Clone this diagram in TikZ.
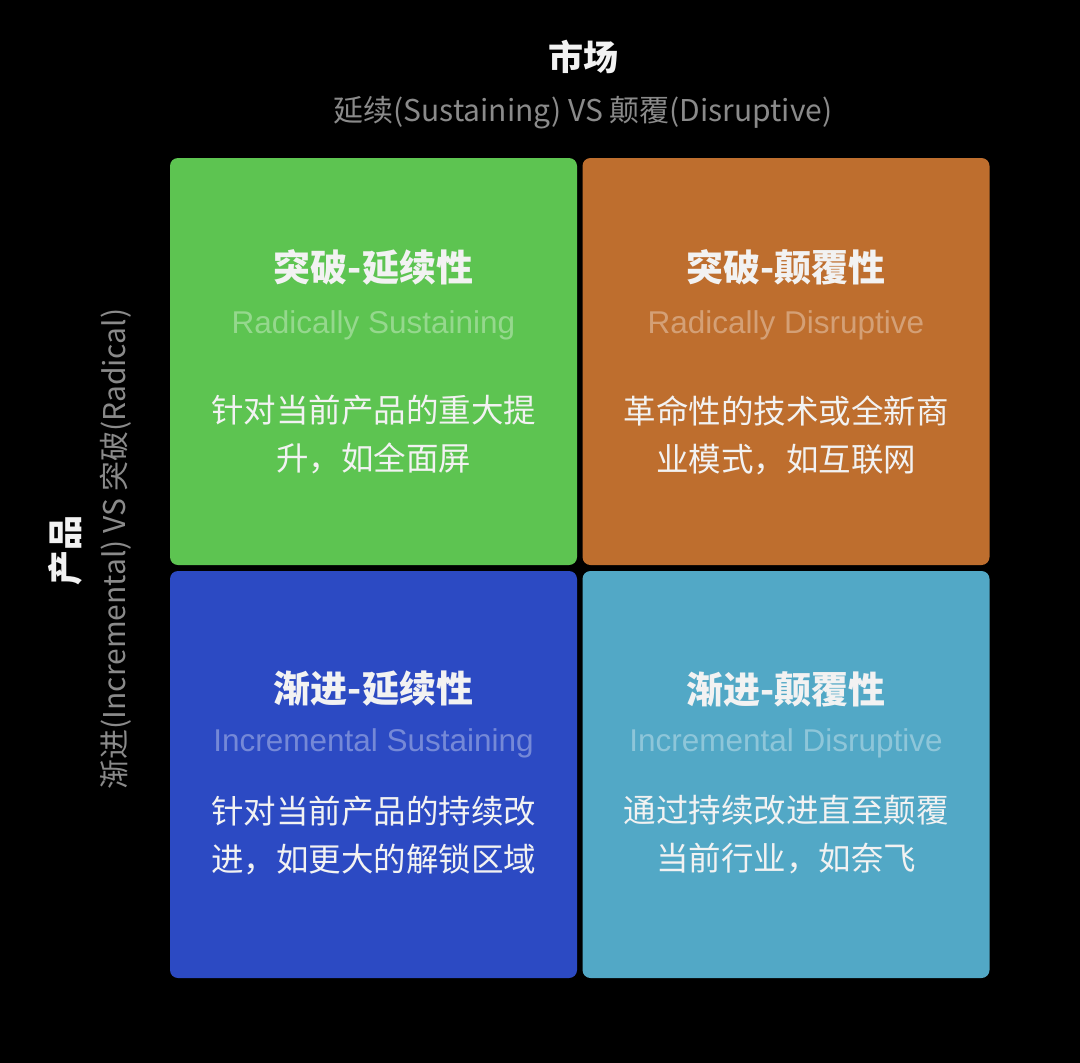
\documentclass[tikz,border=0pt]{standalone}
\usepackage{fontspec}
\setmainfont{Noto Sans CJK SC}
\newfontfamily\engfont{Liberation Sans}
\definecolor{bgblack}{HTML}{000000}
\definecolor{qgreen}{HTML}{5DC451}
\definecolor{qorange}{HTML}{BE6E2E}
\definecolor{qblue}{HTML}{2C4AC3}
\definecolor{qcyan}{HTML}{52A8C6}
\definecolor{hdgrey}{HTML}{8A8A8A}
\definecolor{txtwhite}{HTML}{F2F2F2}
\tikzset{
  quad/.style={rounded corners=8pt, minimum width=407pt, minimum height=407pt, inner sep=0pt, draw=none},
  qtitle/.style={text=txtwhite, font=\fontsize{37}{42}\selectfont\bfseries, inner sep=0pt},
  qeng/.style={text=white, text opacity=0.35, font=\engfont\fontsize{31.5}{36}\selectfont, inner sep=0pt},
  qdesc/.style={text=txtwhite, font=\fontsize{32.5}{48}\selectfont, align=center, inner sep=0pt},
  hdmain/.style={text=txtwhite, font=\fontsize{35}{40}\selectfont\bfseries, inner sep=0pt},
  hdsub/.style={text=hdgrey, font=\fontsize{30}{34}\selectfont, inner sep=0pt},
}
\begin{document}
\begin{tikzpicture}[x=1pt,y=-1pt]
\fill[bgblack] (0,0) rectangle (1080,1063);
\useasboundingbox (0,0) rectangle (1080,1063);

\node[hdmain] (mkt) at (583,57) {市场};
\node[hdsub] (mktsub) at (583,113) {延续(Sustaining) VS 颠覆(Disruptive)};

\node[hdmain, rotate=90] (prd) at (65,550) {产品};
\node[hdsub, rotate=90] (prdsub) at (116,549) {渐进(Incremental) VS 突破(Radical)};

\node[quad, fill=qgreen] (q1) at (373.5,361.5) {};
\node[quad, fill=qorange] (q2) at (786,361.5) {};
\node[quad, fill=qblue] (q3) at (373.5,774.5) {};
\node[quad, fill=qcyan] (q4) at (786,774.5) {};

\node[qtitle] (t1) at (373.5,267) {突破-延续性};
\node[qeng] (e1) at (373.5,325) {Radically Sustaining};
\node[qdesc] (d1) at (373.5,435) {针对当前产品的重大提\\升，如全面屏};

\node[qtitle] (t2) at (786,267) {突破-颠覆性};
\node[qeng] (e2) at (786,325) {Radically Disruptive};
\node[qdesc] (d2) at (786,435) {革命性的技术或全新商\\业模式，如互联网};

\node[qtitle] (t3) at (373.5,689) {渐进-延续性};
\node[qeng] (e3) at (373.5,743) {Incremental Sustaining};
\node[qdesc] (d3) at (373.5,835) {针对当前产品的持续改\\进，如更大的解锁区域};

\node[qtitle] (t4) at (786,689) {渐进-颠覆性};
\node[qeng] (e4) at (786,743) {Incremental Disruptive};
\node[qdesc] (d4) at (786,835) {通过持续改进直至颠覆\\当前行业，如奈飞};
\end{tikzpicture}
\end{document}
